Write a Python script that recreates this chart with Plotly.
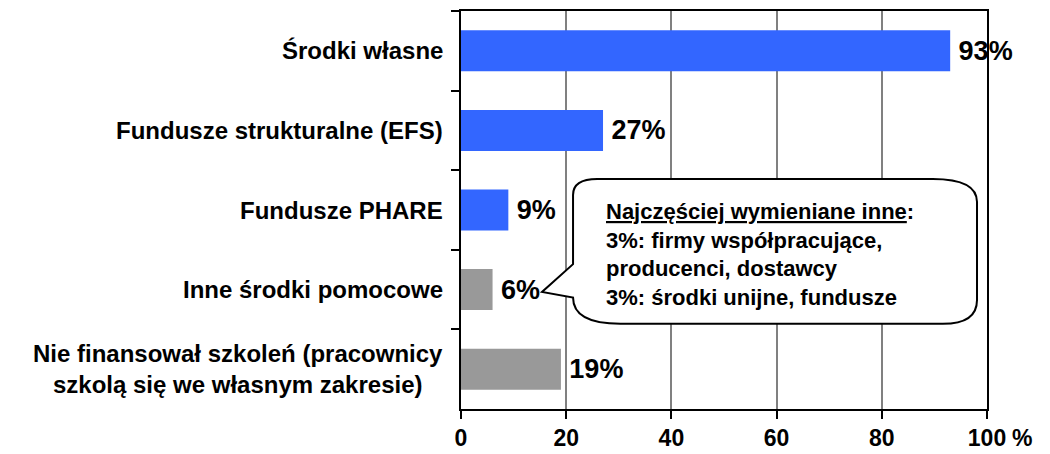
import plotly.graph_objects as go

categories = [
    "Środki własne",
    "Fundusze strukturalne (EFS)",
    "Fundusze PHARE",
    "Inne środki pomocowe",
    "Nie finansował szkoleń (pracownicy<br>szkolą się we własnym zakresie)",
]
values = [93, 27, 9, 6, 19]
bar_colors = ["#3366FF", "#3366FF", "#3366FF", "#999999", "#999999"]
value_labels = [f"\u2009{v}%" for v in values]
x_ticks = [0, 20, 40, 60, 80, 100]
callout_lines = [
    "<u>Najczęściej wymieniane inne</u>:",
    "3%: firmy współpracujące,",
    "producenci, dostawcy",
    "3%: środki unijne, fundusze",
]

FONT = "Arial, 'Liberation Sans', sans-serif"

fig = go.Figure()
fig.add_trace(go.Bar(
    y=categories,
    x=values,
    orientation="h",
    marker=dict(color=bar_colors, line=dict(width=0)),
    text=value_labels,
    textposition="outside",
    textfont=dict(family=FONT, size=27, color="black", weight="bold"),
    constraintext="none",
    cliponaxis=False,
    hoverinfo="skip",
))

# category labels (centered multi-line)
for c in categories:
    fig.add_annotation(
        x=0, xref="paper", y=c, yref="y",
        text=f"<b>{c}</b>", showarrow=False,
        xanchor="right", yanchor="middle", align="center", xshift=-16,
        font=dict(family=FONT, size=24, color="black"),
    )

# "%" after 100 tick
fig.add_annotation(
    x=1, xref="paper", y=0, yref="paper", text="<b>%</b>", showarrow=False,
    xanchor="left", yanchor="middle", xshift=23, yshift=-29,
    font=dict(family=FONT, size=23, color="black"),
)

# callout bubble (data units: x in %, y in category index)
L, R, T, B = 21.3, 98.1, 1.61, 3.43
tip_x, tip_y = 15.4, 3.03
notch_top = 2.68
path = (
    f"M {L},{T+0.2} Q {L},{T} {L+4.6},{T} "
    f"L {R-8.4},{T} Q {R},{T} {R},{T+0.29} "
    f"L {R},{B-0.3} Q {R},{B} {R-6.5},{B} "
    f"L {L+9},{B} Q {L},{B} {L},{B-0.33} "
    f"L {tip_x},{tip_y} L {L},{notch_top} Z"
)
fig.add_shape(type="path", path=path, xref="x", yref="y",
              line=dict(color="black", width=2), fillcolor="white", layer="above")
fig.add_annotation(
    x=27.2, xref="x", y=2.565, yref="y",
    text="<b>" + "<br>".join(callout_lines) + "</b>", showarrow=False,
    xanchor="left", yanchor="middle", align="left",
    font=dict(family=FONT, size=22, color="black"),
)

fig.update_layout(
    width=1050, height=454,
    margin=dict(l=461, r=63, t=11, b=45),
    paper_bgcolor="white", plot_bgcolor="white",
    showlegend=False,
    bargap=0.485,
    font=dict(family=FONT, color="black"),
    xaxis=dict(
        range=[0, 100], tickvals=x_ticks, ticktext=[str(t) for t in x_ticks],
        ticks="outside", ticklen=8, tickcolor="black", tickwidth=1.5,
        showgrid=True, gridcolor="#808080", gridwidth=1.5,
        showline=True, linecolor="black", linewidth=1.5, mirror=True,
        zeroline=False, ticklabelstandoff=0, automargin=False,
        tickfont=dict(family=FONT, size=23, color="black", weight="bold"),
    ),
    yaxis=dict(
        type="category", categoryorder="array", categoryarray=categories,
        autorange="reversed", tickson="boundaries",
        ticks="outside", ticklen=8, tickcolor="black", tickwidth=1.5,
        showticklabels=False, showgrid=False, automargin=False,
        showline=True, linecolor="black", linewidth=1.5, mirror=True,
        zeroline=False,
    ),
)

fig.write_html(
    "out.html",
    config={"displayModeBar": False},
    post_script="document.body.style.margin='0';document.body.style.padding='0';",
)
